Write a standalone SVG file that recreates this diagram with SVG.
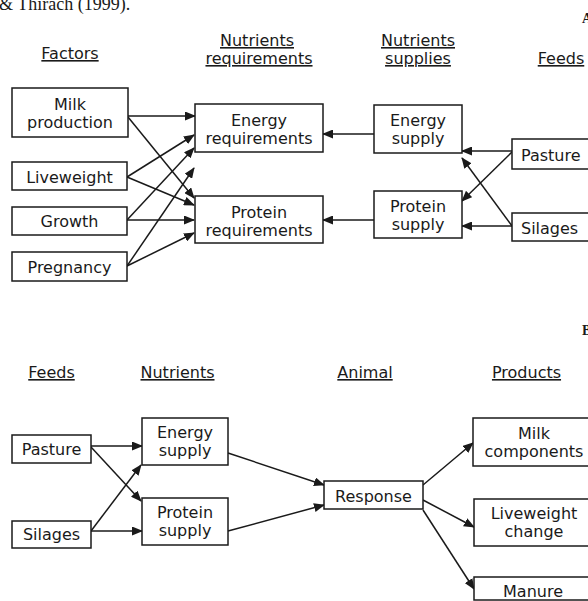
<svg xmlns="http://www.w3.org/2000/svg" width="588" height="601" viewBox="0 0 588 601">
<defs>
<marker id="ah" markerWidth="11" markerHeight="9" refX="10" refY="4.5" orient="auto" markerUnits="userSpaceOnUse">
<path d="M0,0 L11,4.5 L0,9 Z" fill="#1a1a1a"/>
</marker>
<style>
text{font-family:"DejaVu Sans","Liberation Sans",sans-serif;font-size:16px;fill:#1a1a1a;text-anchor:middle}
.h{text-decoration:underline}
.l{text-anchor:start}
.box{fill:#fff;stroke:#1a1a1a;stroke-width:1.5}
.c line{stroke:#1a1a1a;stroke-width:1.5;marker-end:url(#ah)}
.ser{font-family:"Liberation Serif",serif;text-anchor:start}
</style>
</defs>
<rect width="588" height="601" fill="#fff"/>
<text class="ser" x="-1" y="10" style="font-size:18px">&amp; Thirach (1999).</text>
<text class="ser" x="582" y="23" style="font-size:14px;font-weight:bold">A</text>
<text class="ser" x="582" y="335" style="font-size:14px;font-weight:bold">B</text>

<g id="headers-a">
<text class="h" x="70" y="59">Factors</text>
<text class="h" x="257" y="46">Nutrients</text>
<text class="h" x="259" y="64">requirements</text>
<text class="h" x="418" y="46">Nutrients</text>
<text class="h" x="418" y="64">supplies</text>
<text class="h" x="561" y="64">Feeds</text>
</g>
<g id="headers-b">
<text class="h" x="51.5" y="378">Feeds</text>
<text class="h" x="177.5" y="378">Nutrients</text>
<text class="h" x="365" y="378">Animal</text>
<text class="h" x="526.5" y="378">Products</text>
</g>

<g class="c" id="connectors">
<line x1="128" y1="116" x2="195" y2="116"/>
<line x1="128" y1="117" x2="194" y2="198"/>
<line x1="127" y1="177" x2="194" y2="135"/>
<line x1="127" y1="177" x2="194" y2="205"/>
<line x1="127" y1="220" x2="194" y2="148"/>
<line x1="127" y1="220" x2="194" y2="220"/>
<line x1="127" y1="266" x2="194" y2="168"/>
<line x1="127" y1="266" x2="194" y2="233"/>
<line x1="374" y1="134" x2="323" y2="134"/>
<line x1="374" y1="220" x2="323" y2="220"/>
<line x1="512" y1="151" x2="462" y2="151"/>
<line x1="512" y1="152" x2="462" y2="201"/>
<line x1="512" y1="226" x2="462" y2="158"/>
<line x1="512" y1="226" x2="462" y2="226"/>

<line x1="91" y1="446" x2="142" y2="446"/>
<line x1="91" y1="447" x2="141" y2="501"/>
<line x1="91" y1="531" x2="141" y2="465"/>
<line x1="91" y1="531" x2="142" y2="531"/>
<line x1="228" y1="453" x2="324" y2="485"/>
<line x1="228" y1="531" x2="324" y2="505"/>
<line x1="423" y1="485" x2="473" y2="443"/>
<line x1="423" y1="500" x2="474" y2="527"/>
<line x1="423" y1="510" x2="474" y2="589"/>
</g>

<g id="milk-production"><rect class="box" x="12" y="88" width="116" height="49"/><text x="70" y="110">Milk</text><text x="70" y="128">production</text></g>
<g id="liveweight"><rect class="box" x="12" y="162" width="115" height="28"/><text x="69.5" y="183">Liveweight</text></g>
<g id="growth"><rect class="box" x="12" y="207" width="115" height="28"/><text x="69.5" y="227">Growth</text></g>
<g id="pregnancy"><rect class="box" x="12" y="252" width="115" height="29"/><text x="69.5" y="273">Pregnancy</text></g>
<g id="energy-requirements"><rect class="box" x="195" y="104" width="128" height="48"/><text x="259" y="126">Energy</text><text x="259" y="144">requirements</text></g>
<g id="protein-requirements"><rect class="box" x="195" y="196" width="128" height="47"/><text x="259" y="218">Protein</text><text x="259" y="236">requirements</text></g>
<g id="energy-supply-a"><rect class="box" x="374" y="105" width="88" height="48"/><text x="418" y="126">Energy</text><text x="418" y="144">supply</text></g>
<g id="protein-supply-a"><rect class="box" x="374" y="191" width="88" height="47"/><text x="418" y="212">Protein</text><text x="418" y="230">supply</text></g>
<g id="pasture-a"><rect class="box" x="512" y="139" width="90" height="30"/><text class="l" x="521" y="161">Pasture</text></g>
<g id="silages-a"><rect class="box" x="512" y="213" width="90" height="28"/><text class="l" x="521" y="234">Silages</text></g>

<g id="pasture-b"><rect class="box" x="12" y="435" width="79" height="28"/><text x="51.5" y="455">Pasture</text></g>
<g id="silages-b"><rect class="box" x="12" y="521" width="79" height="27"/><text x="51.5" y="540">Silages</text></g>
<g id="energy-supply-b"><rect class="box" x="142" y="418" width="86" height="47"/><text x="185" y="438">Energy</text><text x="185" y="456">supply</text></g>
<g id="protein-supply-b"><rect class="box" x="142" y="498" width="86" height="47"/><text x="185" y="518">Protein</text><text x="185" y="536">supply</text></g>
<g id="response"><rect class="box" x="324" y="481" width="99" height="28"/><text x="373.5" y="502">Response</text></g>
<g id="milk-components"><rect class="box" x="473" y="418" width="125" height="48"/><text x="534" y="439">Milk</text><text x="534" y="457">components</text></g>
<g id="liveweight-change"><rect class="box" x="474" y="499" width="124" height="47"/><text x="534" y="519">Liveweight</text><text x="534" y="537">change</text></g>
<g id="manure"><rect class="box" x="474" y="577" width="124" height="23"/><text x="533" y="597">Manure</text></g>
</svg>
